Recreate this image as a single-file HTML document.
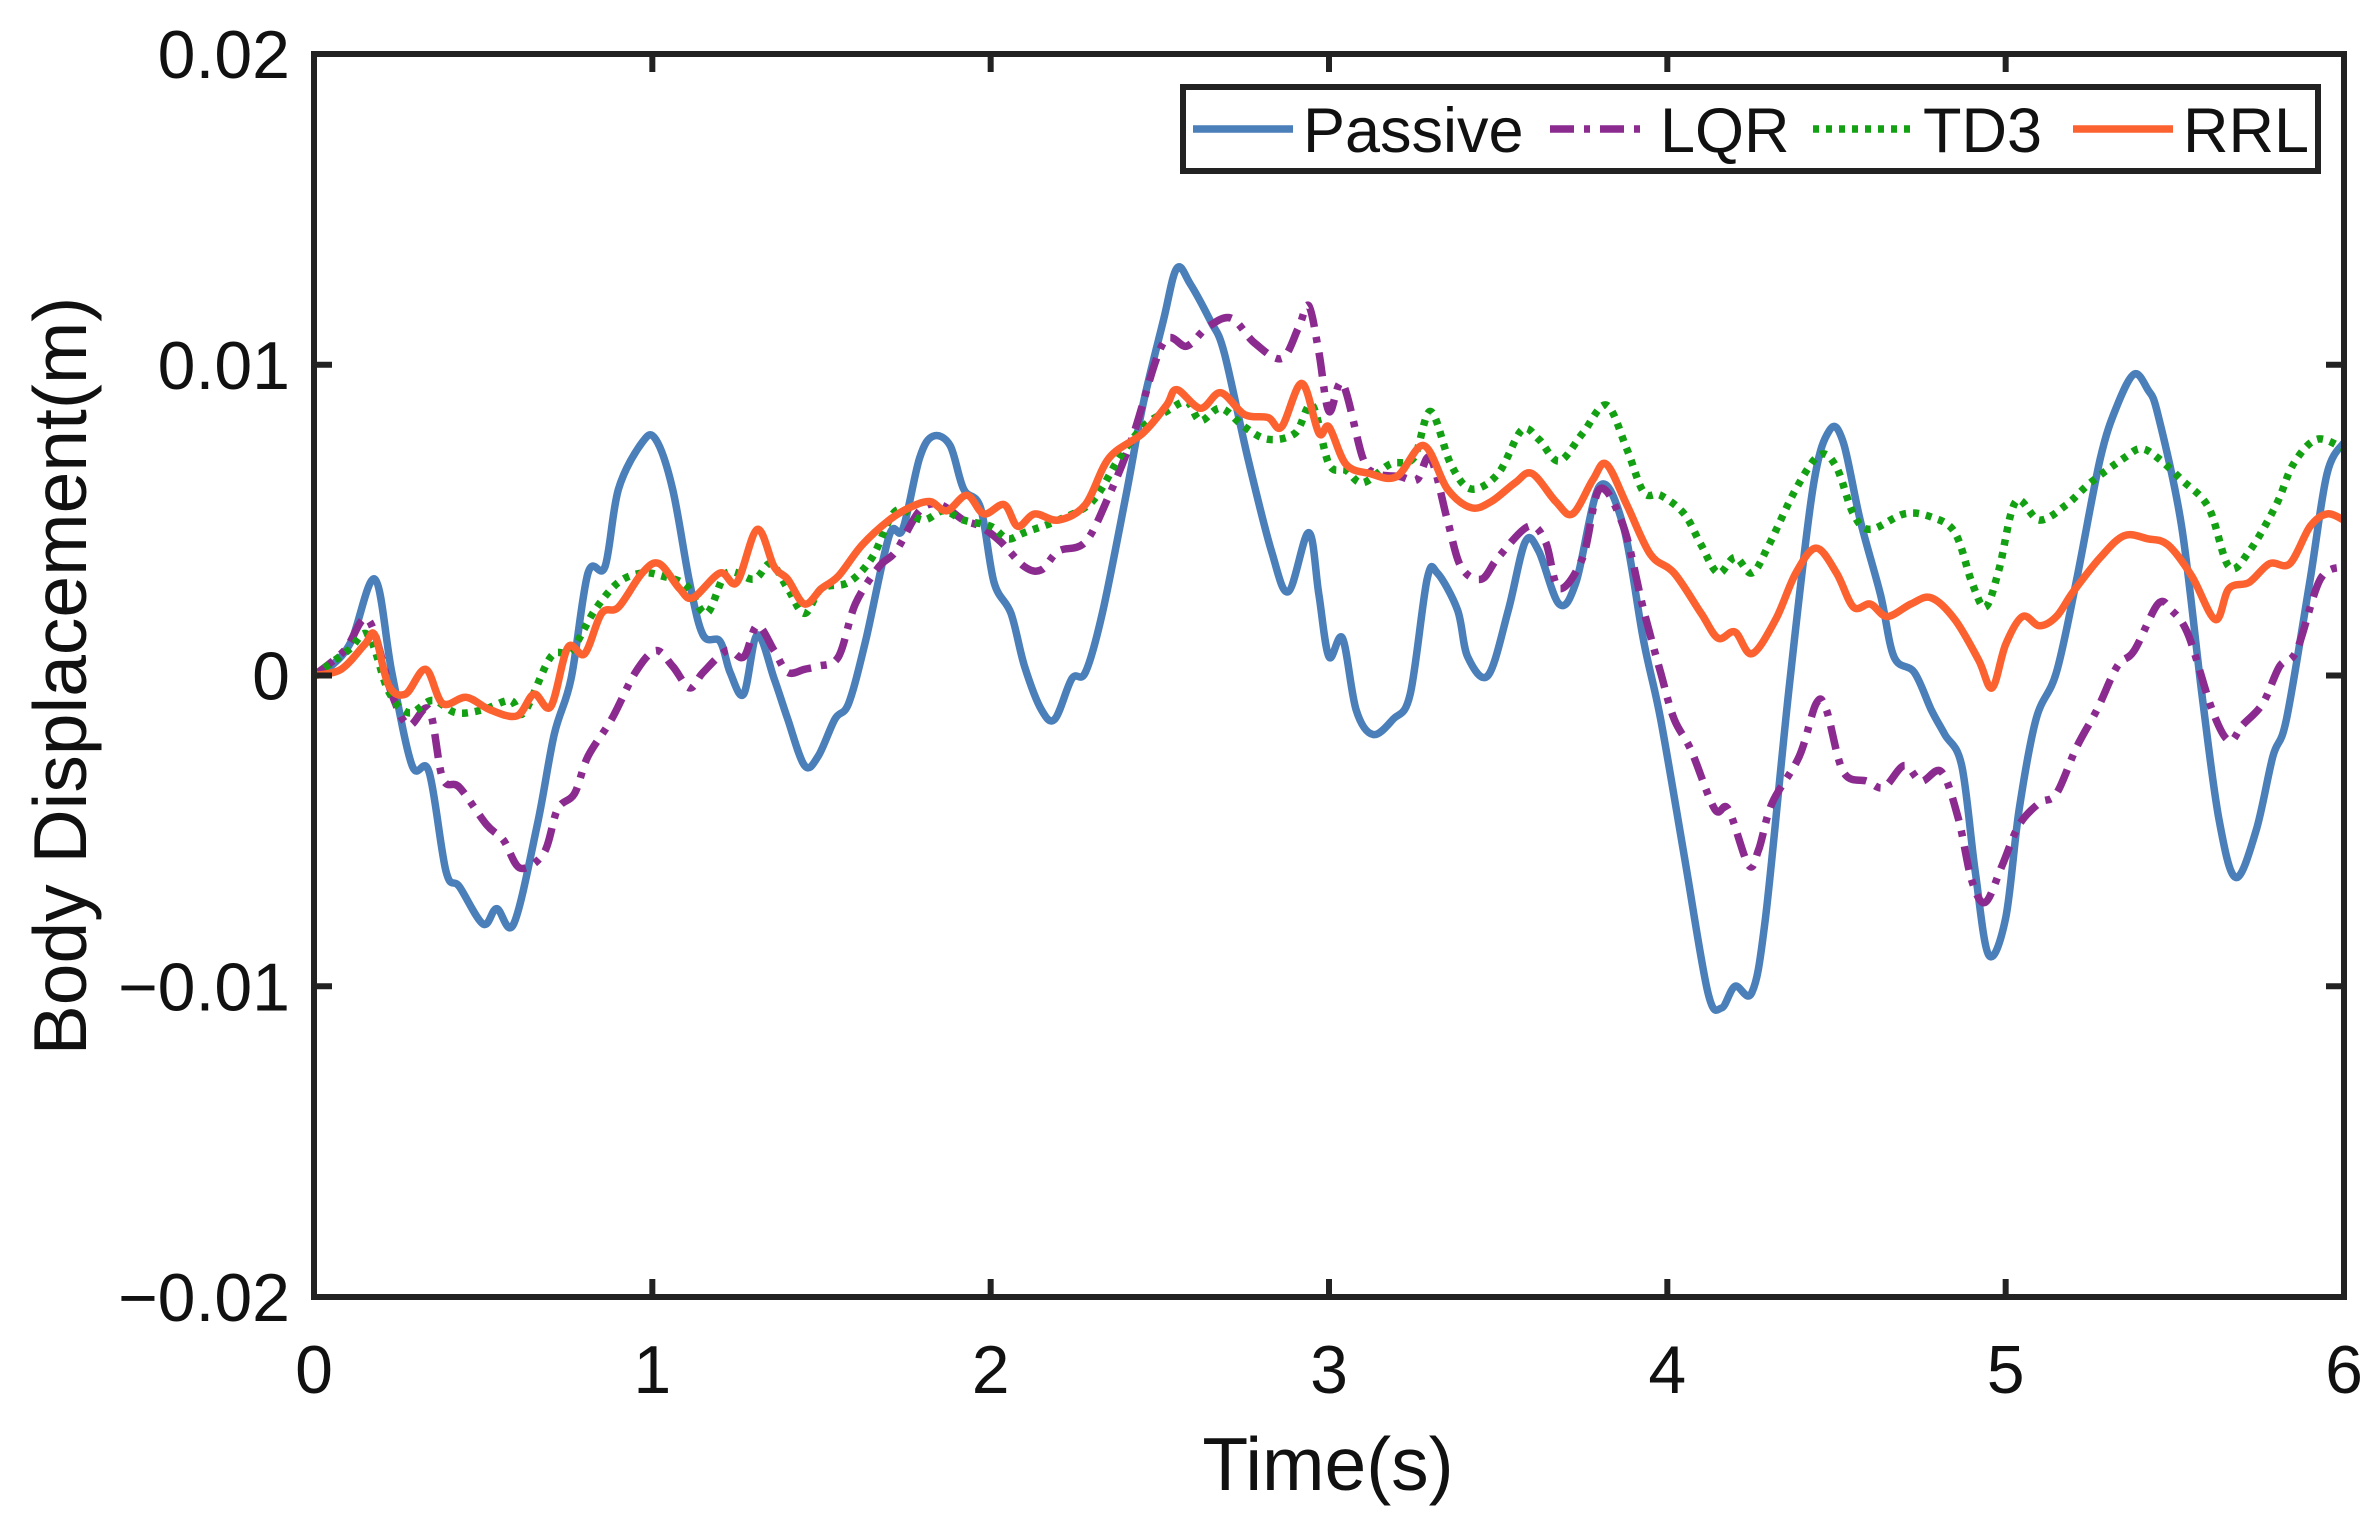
<!DOCTYPE html>
<html><head><meta charset="utf-8"><style>
html,body{margin:0;padding:0;background:#fff;}
svg{display:block;font-family:"Liberation Sans",Arial,sans-serif;}
</style></head><body>
<svg id="chart" width="2379" height="1517" viewBox="0 0 2379 1517" xmlns="http://www.w3.org/2000/svg">
<rect width="2379" height="1517" fill="#fff"/>
<g id="series"></g>
<g id="axes"></g>
<g id="legend"></g>
<text x="0" y="0" transform="translate(86,676) rotate(-90)" text-anchor="middle" font-size="75" fill="#111">Body Displacement(m)</text>
<text x="1328" y="1490" text-anchor="middle" font-size="75" fill="#111">Time(s)</text>
</svg>
<script>
const xTicks=[0,1,2,3,4,5,6];
const yTicks=[0.02,0.01,0,-0.01,-0.02];
const yTickLabels=["0.02","0.01","0","\u22120.01","\u22120.02"];
const seriesNames=["Passive","LQR","TD3","RRL"];
const passiveT=[0,0.05,0.11,0.18,0.23,0.29,0.34,0.39,0.43,0.50,0.54,0.59,0.66,0.71,0.76,0.81,0.86,0.90,0.97,1.01,1.06,1.11,1.15,1.20,1.23,1.27,1.31,1.36,1.40,1.45,1.49,1.54,1.58,1.63,1.70,1.74,1.79,1.83,1.88,1.92,1.97,2.01,2.06,2.10,2.15,2.19,2.24,2.28,2.33,2.40,2.45,2.51,2.55,2.59,2.65,2.69,2.76,2.83,2.88,2.94,2.97,3.0,3.04,3.08,3.13,3.19,3.24,3.29,3.32,3.38,3.41,3.47,3.53,3.58,3.62,3.68,3.73,3.80,3.87,3.93,3.98,4.05,4.12,4.16,4.20,4.25,4.29,4.36,4.43,4.48,4.52,4.57,4.63,4.67,4.73,4.78,4.82,4.87,4.91,4.95,5.0,5.04,5.09,5.15,5.21,5.28,5.33,5.38,5.42,5.45,5.52,5.58,5.63,5.68,5.74,5.79,5.83,5.90,5.95,6.0];
const passiveV=[0,0.3,1.1,3.1,0.1,-2.9,-3.1,-6.3,-6.8,-8.0,-7.5,-8.0,-4.8,-1.9,-0.1,3.3,3.5,6.0,7.5,7.6,6.0,3.0,1.3,1.1,0.1,-0.6,1.3,-0.1,-1.4,-2.9,-2.6,-1.4,-0.9,1.1,4.5,4.7,7.0,7.7,7.4,6.0,5.4,3.0,2.0,0.3,-1.1,-1.4,-0.1,0.1,2.0,5.8,8.7,11.4,13.1,12.6,11.4,10.4,7.0,4.0,2.7,4.6,2.6,0.6,1.2,-1.1,-1.9,-1.4,-0.6,3.1,3.3,2.1,0.6,0,2.1,4.3,4.0,2.3,3.0,6.1,4.8,1.1,-1.4,-5.8,-10.2,-10.7,-10.0,-10.2,-7.8,-0.4,6.0,7.9,7.5,5.0,2.6,0.6,0.1,-1.1,-1.9,-2.9,-6.3,-9.0,-7.8,-4.3,-1.4,0.1,3.1,7.0,8.7,9.7,9.2,8.4,4.8,-0.6,-4.6,-6.5,-5.0,-2.6,-1.4,3.1,6.5,7.5];
const lqrT=[0,0.09,0.16,0.23,0.28,0.34,0.38,0.43,0.51,0.56,0.61,0.68,0.72,0.77,0.81,0.88,0.95,1.01,1.06,1.11,1.15,1.22,1.27,1.31,1.36,1.40,1.45,1.49,1.55,1.60,1.67,1.72,1.79,1.85,1.92,1.97,2.03,2.10,2.15,2.20,2.28,2.35,2.42,2.51,2.58,2.64,2.71,2.78,2.86,2.91,2.94,2.97,3.0,3.04,3.10,3.14,3.21,3.26,3.30,3.35,3.39,3.45,3.50,3.59,3.64,3.68,3.75,3.80,3.87,3.93,3.98,4.02,4.07,4.14,4.18,4.24,4.27,4.31,4.39,4.44,4.47,4.52,4.59,4.64,4.70,4.75,4.81,4.86,4.90,4.94,4.99,5.04,5.10,5.15,5.21,5.27,5.33,5.38,5.45,5.49,5.54,5.61,5.66,5.70,5.76,5.81,5.86,5.93,6.0];
const lqrV=[0,0.8,1.8,-0.6,-1.6,-1.1,-3.3,-3.6,-4.8,-5.3,-6.2,-5.7,-4.3,-3.8,-2.6,-1.4,0.1,0.8,0.3,-0.4,0.1,0.8,0.6,1.6,0.8,0.1,0.2,0.3,0.6,2.3,3.5,4.0,5.3,5.5,5.0,4.8,4.3,3.5,3.4,4.0,4.3,5.8,7.7,10.7,10.6,11.2,11.5,10.7,10.2,11.2,11.9,10.4,8.5,9.4,7.0,6.5,6.4,6.3,7.0,5.0,3.5,3.1,3.8,4.8,4.3,2.8,3.8,6.0,4.8,2.1,0.1,-1.4,-2.4,-4.3,-4.3,-6.1,-5.6,-4.1,-2.6,-0.9,-1.1,-3.1,-3.4,-3.6,-2.9,-3.4,-3.1,-4.6,-6.6,-7.3,-6.1,-4.8,-4.1,-3.8,-2.3,-1.1,0.3,0.8,2.3,2.1,1.3,-1.1,-2.1,-1.6,-0.9,0.3,0.8,3.1,3.5];
const td3T=[0,0.1,0.16,0.22,0.28,0.35,0.42,0.5,0.58,0.62,0.7,0.76,0.83,0.9,0.97,1.03,1.1,1.16,1.22,1.3,1.35,1.4,1.45,1.5,1.58,1.65,1.72,1.8,1.86,1.92,2.0,2.05,2.1,2.2,2.3,2.38,2.45,2.52,2.58,2.62,2.68,2.75,2.82,2.9,2.95,3.0,3.05,3.1,3.18,3.25,3.3,3.36,3.42,3.5,3.57,3.62,3.68,3.75,3.82,3.88,3.93,3.98,4.05,4.1,4.15,4.2,4.25,4.3,4.38,4.45,4.5,4.55,4.6,4.7,4.78,4.85,4.9,4.94,4.98,5.03,5.1,5.18,5.25,5.35,5.4,5.45,5.52,5.6,5.66,5.72,5.8,5.85,5.92,6.0];
const td3V=[0,0.8,1.3,-0.5,-1.2,-0.8,-1.2,-1.1,-0.8,-1.2,0.6,0.8,2.1,3.0,3.3,3.2,2.9,2.0,3.3,3.1,3.6,2.8,2.0,2.8,3.0,3.8,5.3,5.0,5.3,5.0,4.8,4.4,4.6,5.0,5.6,7.0,8.0,8.5,8.8,8.2,8.6,8.0,7.6,7.8,8.7,6.8,6.6,6.2,6.8,7.0,8.5,6.8,6.0,6.5,7.9,7.6,6.9,7.8,8.7,7.3,5.9,5.8,5.2,4.2,3.3,3.8,3.3,4.2,6.0,7.1,6.7,5.2,4.7,5.2,5.1,4.6,3.0,2.2,3.4,5.6,5.0,5.5,6.2,7.0,7.3,7.0,6.3,5.4,3.5,4.0,5.5,6.8,7.6,7.3];
const rrlT=[0,0.08,0.15,0.18,0.22,0.27,0.33,0.38,0.45,0.52,0.6,0.65,0.7,0.75,0.8,0.85,0.9,0.97,1.02,1.08,1.12,1.2,1.25,1.31,1.36,1.4,1.45,1.5,1.55,1.62,1.7,1.76,1.82,1.87,1.93,1.98,2.04,2.08,2.13,2.2,2.28,2.35,2.45,2.52,2.55,2.62,2.68,2.75,2.82,2.86,2.92,2.97,3.0,3.05,3.12,3.2,3.28,3.35,3.42,3.48,3.55,3.6,3.67,3.72,3.78,3.82,3.88,3.95,4.02,4.1,4.15,4.2,4.25,4.32,4.38,4.44,4.5,4.55,4.6,4.65,4.72,4.78,4.85,4.92,4.96,5.0,5.05,5.1,5.15,5.2,5.28,5.35,5.42,5.48,5.55,5.62,5.66,5.72,5.78,5.84,5.9,5.95,6.0];
const rrlV=[0,0.2,1.0,1.3,-0.3,-0.6,0.2,-0.9,-0.7,-1.1,-1.3,-0.6,-1.0,0.9,0.7,2.0,2.2,3.3,3.6,2.8,2.5,3.3,3.0,4.7,3.5,3.1,2.3,2.8,3.2,4.2,5.0,5.4,5.6,5.3,5.8,5.2,5.5,4.8,5.2,5.0,5.5,7.0,7.8,8.7,9.2,8.6,9.1,8.4,8.3,8.0,9.4,7.8,8.0,6.8,6.5,6.4,7.4,6.0,5.4,5.6,6.2,6.5,5.6,5.2,6.3,6.8,5.5,3.9,3.3,2.0,1.2,1.4,0.7,1.8,3.3,4.1,3.3,2.2,2.3,1.9,2.3,2.5,1.8,0.5,-0.4,1.0,1.9,1.6,1.9,2.7,3.8,4.5,4.4,4.2,3.2,1.8,2.8,3.0,3.6,3.6,4.8,5.2,5.0];

const L=314,R=2344,T=54,B=1297;
const xs=t=>L+(t-0)/(6-0)*(R-L);
const ys=v=>T+(0.02-v)/(0.04)*(B-T);
const NS='http://www.w3.org/2000/svg';
function mk(tag,attrs,parent){const e=document.createElementNS(NS,tag);for(const k in attrs)e.setAttribute(k,attrs[k]);parent.appendChild(e);return e;}
function pathFrom(ts,vs){
  const p=ts.map((t,i)=>[xs(t),ys(vs[i]*0.001)]);
  let d='M'+p[0][0].toFixed(1)+','+p[0][1].toFixed(1);
  for(let i=0;i<p.length-1;i++){
    const p0=p[Math.max(i-1,0)],p1=p[i],p2=p[i+1],p3=p[Math.min(i+2,p.length-1)];
    const c1=[p1[0]+(p2[0]-p0[0])/6,p1[1]+(p2[1]-p0[1])/6];
    const c2=[p2[0]-(p3[0]-p1[0])/6,p2[1]-(p3[1]-p1[1])/6];
    d+=' C'+c1[0].toFixed(1)+','+c1[1].toFixed(1)+' '+c2[0].toFixed(1)+','+c2[1].toFixed(1)+' '+p2[0].toFixed(1)+','+p2[1].toFixed(1);
  }
  return d;
}
const sg=document.getElementById('series');
const styles=[
 {c:'#4a7fba',dash:''},
 {c:'#8b2a8f',dash:'24 10 6 10'},
 {c:'#13a013',dash:'6 7'},
 {c:'#fc6230',dash:''}];
const seriesT=[passiveT,lqrT,td3T,rrlT];
const seriesV=[passiveV,lqrV,td3V,rrlV];
[0,1,2,3].forEach(i=>{
  const el=mk('path',{d:pathFrom(seriesT[i],seriesV[i]),fill:'none',stroke:styles[i].c,'stroke-width':7.5,'stroke-dasharray':styles[i].dash,'stroke-linejoin':'round'},sg);
  
  
});
const ag=document.getElementById('axes');
const box=mk('rect',{x:L,y:T,width:R-L,height:B-T,fill:'none',stroke:'#222','stroke-width':6},ag);


xTicks.forEach(t=>{
  const x=xs(t);
  mk('line',{x1:x,y1:B,x2:x,y2:B-18,stroke:'#222','stroke-width':6},ag);
  mk('line',{x1:x,y1:T,x2:x,y2:T+18,stroke:'#222','stroke-width':6},ag);
  const tx=mk('text',{x:x,y:1393,'text-anchor':'middle','font-size':68,fill:'#111'},ag);
  tx.textContent=String(t);
  
  
});
yTicks.forEach((v,i)=>{
  const y=ys(v);
  mk('line',{x1:L,y1:y,x2:L+18,y2:y,stroke:'#222','stroke-width':6},ag);
  mk('line',{x1:R,y1:y,x2:R-18,y2:y,stroke:'#222','stroke-width':6},ag);
  const tx=mk('text',{x:290,y:y+24,'text-anchor':'end','font-size':68,fill:'#111'},ag);
  tx.textContent=yTickLabels[i];
  
  
});
const lg=document.getElementById('legend');
const lb=mk('rect',{x:1183,y:87,width:1135,height:84,fill:'#fff',stroke:'#222','stroke-width':6},lg);


const lx=[1193,1550,1813,2073];
lx.forEach((x,i)=>{
  const ln=mk('line',{x1:x,y1:129,x2:x+100,y2:129,stroke:styles[i].c,'stroke-width':7.5,'stroke-dasharray':styles[i].dash},lg);
  
  
  const tx=mk('text',{x:x+110,y:152,'font-size':63,fill:'#111'},lg);
  tx.textContent=seriesNames[i];
  
  
});
</script>
</body></html>
